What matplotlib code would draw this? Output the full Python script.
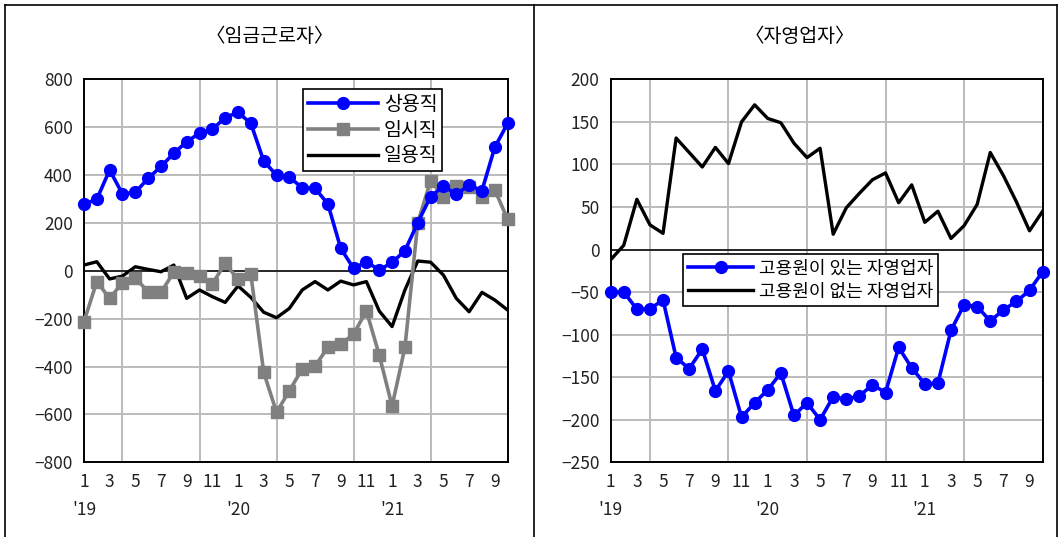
import matplotlib.pyplot as plt
from matplotlib.lines import Line2D

plt.rcParams['font.family'] = ['Noto Sans CJK KR', 'DejaVu Sans']

months = list(range(1, 35))  # 2019.1 ~ 2021.10

# 임금근로자 (천명, 전년동월대비)
regular = [278, 299, 421, 321, 328, 386, 436, 491, 539, 575, 591, 640,
           662, 616, 459, 399, 391, 347, 345, 279, 94, 10, 38, 3,
           35, 84, 201, 310, 354, 320, 358, 335, 516, 616]
temporary = [-213, -45, -115, -50, -31, -87, -90, -6, -10, -22, -55, 31,
             -36, -15, -424, -591, -501, -410, -398, -320, -307, -265, -167, -352,
             -565, -320, 201, 376, 310, 354, 351, 310, 338, 215]
daily = [24, 38, -34, -22, 17, 6, -4, 24, -115, -80, -108, -132,
         -63, -111, -173, -196, -157, -80, -45, -80, -43, -59, -45, -168,
         -233, -80, 41, 36, -18, -115, -171, -90, -122, -164]

# 자영업자
with_staff = [-50, -50, -70, -70, -59, -127, -140, -117, -166, -143, -197, -180,
              -165, -145, -195, -180, -200, -173, -176, -172, -159, -168, -115, -139,
              -158, -157, -95, -65, -67, -84, -71, -61, -48, -26]
without_staff = [-12, 5, 59, 29, 19, 131, 114, 97, 120, 101, 150, 170,
                 154, 149, 125, 108, 119, 18, 49, 66, 82, 90, 55, 76,
                 32, 45, 13, 28, 53, 114, 87, 56, 22, 45]

tick_months = list(range(1, 34, 2))
tick_labels = []
for m in tick_months:
    mon = (m - 1) % 12 + 1
    if mon == 1:
        tick_labels.append("%d\n'%d" % (mon, 19 + (m - 1) // 12))
    else:
        tick_labels.append("%d\n" % mon)

fig = plt.figure(figsize=(10.6, 5.37), dpi=100)

# 패널 테두리
for x in (0.005, 0.504, 0.997):
    fig.add_artist(Line2D([x, x], [0, 0.991], color='black', lw=1.2))
fig.add_artist(Line2D([0.005, 0.997], [0.991, 0.991], color='black', lw=1.2))

ax1 = fig.add_axes([0.0792, 0.1391, 0.3997, 0.7132])
ax2 = fig.add_axes([0.5761, 0.1391, 0.4075, 0.7132])


def style_axes(ax, ylim, ystep):
    ax.set_xlim(1, 34)
    ax.set_ylim(*ylim)
    ax.set_yticks(range(ylim[0], ylim[1] + 1, ystep))
    ax.set_xticks(tick_months)
    ax.set_xticklabels(tick_labels, linespacing=1.65)
    ax.set_xticks(range(1, 35, 3), minor=True)
    ax.grid(True, which='minor', axis='x', color='#bbbbbb', lw=1.4)
    ax.grid(True, which='major', axis='y', color='#bbbbbb', lw=1.4)
    ax.set_axisbelow(True)
    ax.tick_params(which='both', length=0, labelsize=12.5, colors='#222222', pad=8)
    ax.tick_params(axis='y', pad=8)
    for s in ax.spines.values():
        s.set_color('black')
        s.set_linewidth(1.4)
    ax.axhline(0, color='black', lw=1.1, zorder=2)


style_axes(ax1, (-800, 800), 200)
ax1.plot(months, regular, color='#0000ff', lw=2.6, marker='o', ms=8.5,
         label='상용직', clip_on=False, zorder=5)
ax1.plot(months, temporary, color='#808080', lw=2.6, marker='s', ms=8,
         label='임시직', clip_on=False, zorder=4)
ax1.plot(months, daily, color='black', lw=2.4, label='일용직', zorder=3)
leg1 = ax1.legend(loc='upper left', bbox_to_anchor=(0.517, 0.975), fontsize=14,
                  frameon=True, fancybox=False, edgecolor='black', framealpha=1,
                  handlelength=3.6, borderpad=0.25, labelspacing=0.25,
                  handletextpad=0.3, borderaxespad=0)
leg1.get_frame().set_linewidth(1.2)

style_axes(ax2, (-250, 200), 50)
ax2.plot(months, with_staff, color='#0000ff', lw=2.6, marker='o', ms=8.5,
         label='고용원이 있는 자영업자', clip_on=False, zorder=5)
ax2.plot(months, without_staff, color='black', lw=2.4,
         label='고용원이 없는 자영업자', zorder=4)
leg2 = ax2.legend(loc='upper left', bbox_to_anchor=(0.167, 0.544), fontsize=13,
                  frameon=True, fancybox=False, edgecolor='black', framealpha=1,
                  handlelength=3.6, borderpad=0.3, labelspacing=0.3,
                  handletextpad=0.3, borderaxespad=0)
leg2.get_frame().set_linewidth(1.2)

fig.text(270 / 1060, 1 - 37 / 537, '〈임금근로자〉', ha='center', va='center', fontsize=14)
fig.text(800 / 1060, 1 - 37 / 537, '〈자영업자〉', ha='center', va='center', fontsize=14)

fig.savefig('out.png', dpi=100)
